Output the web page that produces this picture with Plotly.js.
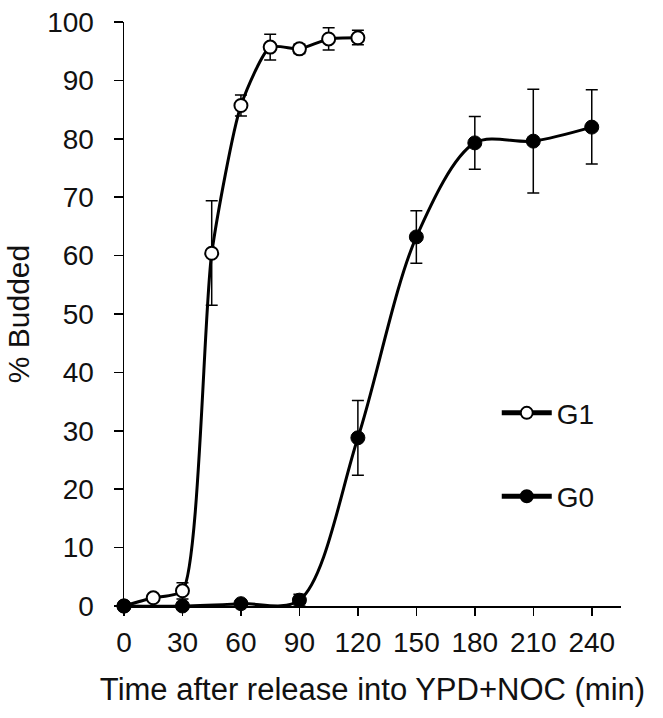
<!DOCTYPE html>
<html><head><meta charset="utf-8">
<script src="https://cdn.plot.ly/plotly-3.0.1.min.js"></script>
<style>html,body{margin:0;padding:0;background:#fff}#chart{width:663px;height:718px}</style>
</head><body><div id="chart"></div>
<script>
const g1Time = [0, 15, 30, 45, 60, 75, 90, 105, 120];
const g1Budded = [0, 1.4, 2.6, 60.4, 85.7, 95.7, 95.4, 97.1, 97.3];
const g1ErrPlus = [0, 0, 1.4, 9.0, 1.8, 2.2, 0.8, 1.9, 1.3];
const g1ErrMinus = [0, 0, 1.4, 8.9, 1.8, 2.2, 0.8, 1.9, 1.2];

const g0Time = [0, 30, 60, 90, 120, 150, 180, 210, 240];
const g0Budded = [0, 0, 0.4, 1.0, 28.8, 63.2, 79.3, 79.6, 82.0];
const g0ErrPlus = [0, 0, 0.5, 1.0, 6.4, 4.5, 4.5, 8.9, 6.4];
const g0ErrMinus = [0, 0, 0.5, 1.0, 6.4, 4.5, 4.5, 8.9, 6.3];

const xTicks = [0, 30, 60, 90, 120, 150, 180, 210, 240];
const yTicks = [0, 10, 20, 30, 40, 50, 60, 70, 80, 90, 100];

const font = 'Liberation Sans, Arial, sans-serif';
const txt = '#111';

const traces = [
  {
    name: 'G1', x: g1Time, y: g1Budded, type: 'scatter', mode: 'lines+markers',
    legendgroup: 'a',
    line: {shape: 'spline', smoothing: 0.6, color: '#000', width: 3},
    marker: {symbol: 'circle', size: 13, color: '#fff', line: {color: '#000', width: 2}},
    error_y: {type: 'data', symmetric: false, array: g1ErrPlus, arrayminus: g1ErrMinus,
              color: '#000', thickness: 1.5, width: 6},
    cliponaxis: false
  },
  {
    name: 'G0', x: g0Time, y: g0Budded, type: 'scatter', mode: 'lines+markers',
    legendgroup: 'b',
    line: {shape: 'spline', smoothing: 0.9, color: '#000', width: 3},
    marker: {symbol: 'circle', size: 14, color: '#000', line: {color: '#000', width: 1}},
    error_y: {type: 'data', symmetric: false, array: g0ErrPlus, arrayminus: g0ErrMinus,
              color: '#000', thickness: 1.5, width: 6},
    cliponaxis: false
  }
];

const layout = {
  width: 663, height: 718,
  margin: {l: 124, r: 42, t: 22, b: 112},
  paper_bgcolor: '#fff', plot_bgcolor: '#fff',
  font: {family: font, size: 28, color: txt},
  showlegend: true,
  legend: {x: 0.75, y: 0.373, xanchor: 'left', yanchor: 'top',
           font: {family: font, size: 28, color: txt},
           bgcolor: 'rgba(0,0,0,0)', tracegroupgap: 44, itemwidth: 50, itemsizing: 'constant'},
  xaxis: {
    range: [0, 255], tickvals: xTicks, ticktext: xTicks.map(String),
    showgrid: false, zeroline: false, showline: true, linecolor: '#000', linewidth: 1.5,
    ticks: 'outside', ticklen: 8, tickwidth: 1.5, tickcolor: '#000', ticklabelstandoff: 3,
    tickfont: {family: font, size: 28, color: txt},
    title: {text: 'Time after release into YPD+NOC (min)', font: {family: font, size: 31, color: txt}, standoff: 21}
  },
  yaxis: {
    range: [0, 100], tickvals: yTicks, ticktext: yTicks.map(String),
    showgrid: false, zeroline: false, showline: true, linecolor: '#000', linewidth: 1.5,
    ticks: 'outside', ticklen: 9, tickwidth: 1.5, tickcolor: '#000', ticklabelstandoff: 14,
    tickfont: {family: font, size: 28, color: txt},
    title: {text: '% Budded', font: {family: font, size: 30, color: txt}, standoff: 8}
  }
};

Plotly.newPlot('chart', traces, layout, {displayModeBar: false, staticPlot: true});
</script>
</body></html>
